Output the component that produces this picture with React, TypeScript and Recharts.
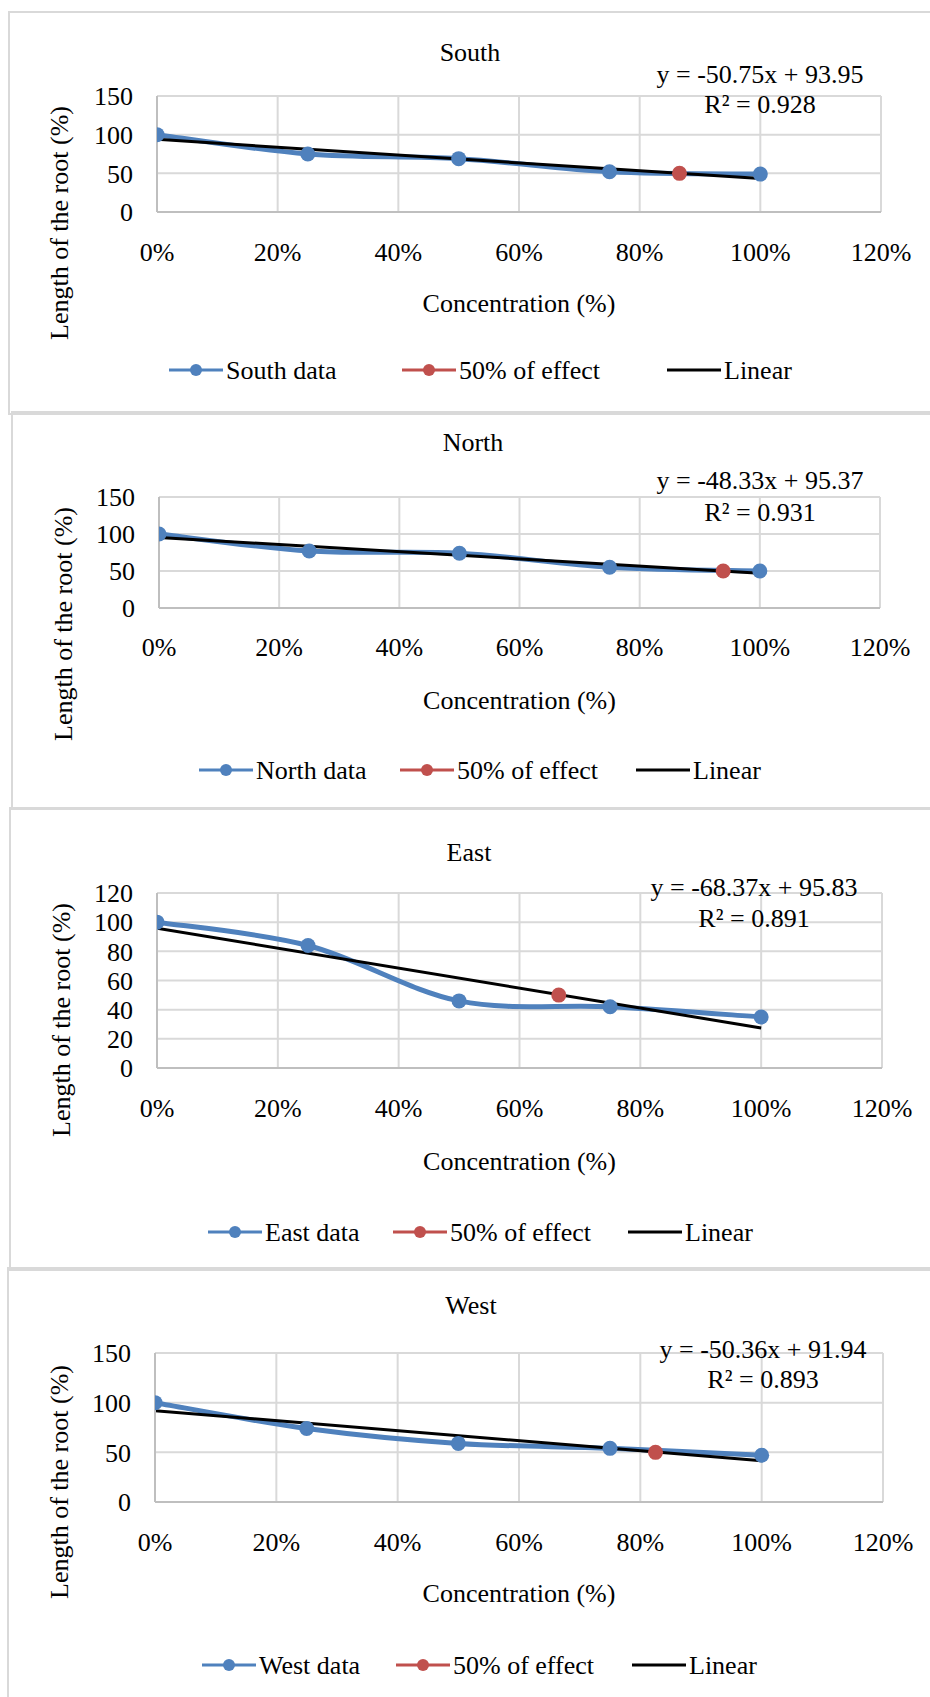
import React from "react";
import { ComposedChart, Line, XAxis, YAxis, CartesianGrid, Legend } from "recharts";

// concentrations tested (fraction of full strength)
const concentrations = [0, 0.25, 0.5, 0.75, 1];

// root length (%)
const southValues = [100, 75, 69, 52, 49];
const northValues = [100, 77, 74, 55, 50];
const eastValues = [100, 84, 46, 42, 35];
const westValues = [100, 74, 59, 54, 47];

// the "50% of effect" point
const southEffect = [{ x: 0.866, y: 50 }];
const northEffect = [{ x: 0.939, y: 50 }];
const eastEffect = [{ x: 0.665, y: 50 }];
const westEffect = [{ x: 0.825, y: 50 }];

// trendline end points
const southTrend = [{ x: 0, y: 93.95 }, { x: 1, y: 43.2 }];
const northTrend = [{ x: 0, y: 95.37 }, { x: 1, y: 47.04 }];
const eastTrend = [{ x: 0, y: 95.83 }, { x: 1, y: 27.46 }];
const westTrend = [{ x: 0, y: 91.94 }, { x: 1, y: 41.58 }];

const southEquation = ["y = -50.75x + 93.95", "R² = 0.928"];
const northEquation = ["y = -48.33x + 95.37", "R² = 0.931"];
const eastEquation = ["y = -68.37x + 95.83", "R² = 0.891"];
const westEquation = ["y = -50.36x + 91.94", "R² = 0.893"];

const xTicks = [0, 0.2, 0.4, 0.6, 0.8, 1, 1.2];
const yTicks150 = [0, 50, 100, 150];
const yTicks120 = [0, 20, 40, 60, 80, 100, 120];

const FONT = '"Liberation Serif", "Times New Roman", serif';
const FS = 26;
const BLUE = "#4f81bd";
const RED = "#c0504d";
const GRID = "#d9d9d9";

// Excel-like smoothed line (uniform Catmull-Rom)
function excelSmooth(context: any) {
  let pts: number[][] = [];
  return {
    areaStart() {},
    areaEnd() {},
    lineStart() {
      pts = [];
    },
    lineEnd() {
      const n = pts.length;
      if (!n) return;
      context.moveTo(pts[0][0], pts[0][1]);
      for (let i = 0; i < n - 1; i++) {
        const p0 = pts[Math.max(0, i - 1)];
        const p1 = pts[i];
        const p2 = pts[i + 1];
        const p3 = pts[Math.min(n - 1, i + 2)];
        context.bezierCurveTo(
          p1[0] + (p2[0] - p0[0]) / 6,
          p1[1] + (p2[1] - p0[1]) / 6,
          p2[0] - (p3[0] - p1[0]) / 6,
          p2[1] - (p3[1] - p1[1]) / 6,
          p2[0],
          p2[1]
        );
      }
    },
    point(x: number, y: number) {
      pts.push([+x, +y]);
    },
  };
}

const panels = [
  {
    name: "South", values: southValues, effect: southEffect, trend: southTrend, eq: southEquation,
    yMax: 150, yTicks: yTicks150,
    box: { left: 9, top: 12, bottom: 412 },
    plot: { left: 157, right: 881, top: 96, bottom: 212 },
    title: [470, 52], eqX: 760, eqY: [74, 104], yTitle: [59, 223], xTitleY: 303, xTickY: 253,
    legendY: 370, legendX: [169, 402, 667],
  },
  {
    name: "North", values: northValues, effect: northEffect, trend: northTrend, eq: northEquation,
    yMax: 150, yTicks: yTicks150,
    box: { left: 12, top: 412, bottom: 807 },
    plot: { left: 159, right: 880, top: 497, bottom: 608 },
    title: [473, 442], eqX: 760, eqY: [480, 512], yTitle: [63, 624], xTitleY: 700, xTickY: 648,
    legendY: 770, legendX: [199, 400, 636],
  },
  {
    name: "East", values: eastValues, effect: eastEffect, trend: eastTrend, eq: eastEquation,
    yMax: 120, yTicks: yTicks120,
    box: { left: 10, top: 808, bottom: 1268 },
    plot: { left: 157, right: 882, top: 893, bottom: 1068 },
    title: [469, 852], eqX: 754, eqY: [887, 918], yTitle: [61, 1020], xTitleY: 1161, xTickY: 1109,
    legendY: 1232, legendX: [208, 393, 628],
  },
  {
    name: "West", values: westValues, effect: westEffect, trend: westTrend, eq: westEquation,
    yMax: 150, yTicks: yTicks150,
    box: { left: 8, top: 1268, bottom: 1700 },
    plot: { left: 155, right: 883, top: 1353, bottom: 1502 },
    title: [471, 1305], eqX: 763, eqY: [1349, 1379], yTitle: [59, 1482], xTitleY: 1593, xTickY: 1543,
    legendY: 1665, legendX: [202, 396, 632],
  },
];

// legend keeps the series order of the original (data, 50% point, linear)
function LegendRow({ payload, names, xs }: any) {
  const items = names.map((n: string) => (payload || []).find((e: any) => e.value === n) || { value: n, color: "#000" });
  return (
    <svg width={930} height={36} style={{ display: "block", overflow: "visible" }}>
      {items.map((entry: any, i: number) => (
        <g key={i}>
          <line x1={xs[i]} x2={xs[i] + 54} y1={18} y2={18} stroke={entry.color} strokeWidth={3} />
          {i < 2 && <circle cx={xs[i] + 27} cy={18} r={6} fill={entry.color} />}
          <text x={xs[i] + 57} y={27} fontFamily={FONT} fontSize={FS} fill="#000">
            {entry.value}
          </text>
        </g>
      ))}
    </svg>
  );
}

function Panel({ p }: any) {
  const { box, plot } = p;
  const w = 930 - box.left;
  const h = box.bottom - box.top;
  const data = concentrations.map((x, i) => ({ x, y: p.values[i] }));
  const xAxisH = 30;
  const tickStyle = { fontSize: FS, fontFamily: FONT, fill: "#000" };
  const toLocal = (x: number, y: number) => [x - box.left, y - box.top];
  const [tx, ty] = toLocal(p.title[0], p.title[1]);
  const [yx, yy] = toLocal(p.yTitle[0], p.yTitle[1]);
  const xTitleX = (plot.left + plot.right) / 2 - box.left;
  const names = [`${p.name} data`, "50% of effect", "Linear"];

  return (
    <>
      <div
        style={{
          position: "absolute",
          left: box.left - 1,
          top: box.top - 1,
          width: 940 - box.left,
          height: h,
          borderTop: `2px solid ${GRID}`,
          borderLeft: `2px solid ${GRID}`,
          borderBottom: `2px solid ${GRID}`,
        }}
      />
      <div style={{ position: "absolute", left: box.left, top: box.top, width: w, height: h }}>
        <ComposedChart
          width={w}
          height={h}
          margin={{
            top: plot.top - box.top,
            left: 0,
            right: 930 - plot.right,
            bottom: box.bottom - plot.bottom - xAxisH,
          }}
        >
          <CartesianGrid stroke={GRID} strokeWidth={2} />
          <XAxis
            type="number"
            dataKey="x"
            domain={[0, 1.2]}
            ticks={xTicks}
            interval={0}
            allowDataOverflow
            height={xAxisH}
            tickFormatter={(v: number) => `${Math.round(v * 100)}%`}
            tick={tickStyle}
            tickLine={false}
            tickSize={0}
            tickMargin={p.xTickY - plot.bottom - 10}
            axisLine={{ stroke: "#bfbfbf", strokeWidth: 2 }}
          />
          <YAxis
            type="number"
            domain={[0, p.yMax]}
            ticks={p.yTicks}
            interval={0}
            width={plot.left - box.left}
            tick={tickStyle}
            tickLine={false}
            tickSize={0}
            tickMargin={24}
            axisLine={{ stroke: "#bfbfbf", strokeWidth: 2 }}
          />
          <Line
            data={data}
            dataKey="y"
            name={names[0]}
            type={excelSmooth as any}
            stroke={BLUE}
            strokeWidth={5}
            dot={{ r: 7.5, fill: BLUE, stroke: BLUE, strokeWidth: 0 }}
            activeDot={false}
            isAnimationActive={false}
          />
          <Line
            data={p.effect}
            dataKey="y"
            name={names[1]}
            stroke={RED}
            strokeWidth={3}
            dot={{ r: 7.5, fill: RED, stroke: RED, strokeWidth: 0 }}
            activeDot={false}
            isAnimationActive={false}
          />
          <Line
            data={p.trend}
            dataKey="y"
            name={names[2]}
            type="linear"
            stroke="#000"
            strokeWidth={3}
            dot={false}
            activeDot={false}
            isAnimationActive={false}
          />
          <Legend
            verticalAlign="middle"
            align="center"
            layout="horizontal"
            wrapperStyle={{ top: p.legendY - box.top - 18, left: 0, width: w, height: 36 }}
            content={(props: any) => (
              <LegendRow
                payload={props.payload}
                names={names}
                xs={p.legendX.map((x: number) => x - box.left)}
              />
            )}
          />
        </ComposedChart>
        <svg
          width={w}
          height={h}
          style={{ position: "absolute", left: 0, top: 0, pointerEvents: "none" }}
        >
          <text x={tx} y={ty + 9} textAnchor="middle" fontFamily={FONT} fontSize={FS}>
            {p.name}
          </text>
          <text x={p.eqX - box.left} y={p.eqY[0] - box.top + 9} textAnchor="middle" fontFamily={FONT} fontSize={FS}>
            {p.eq[0]}
          </text>
          <text x={p.eqX - box.left} y={p.eqY[1] - box.top + 9} textAnchor="middle" fontFamily={FONT} fontSize={FS}>
            {p.eq[1]}
          </text>
          <text x={xTitleX} y={p.xTitleY - box.top + 9} textAnchor="middle" fontFamily={FONT} fontSize={FS}>
            Concentration (%)
          </text>
          <text
            transform={`translate(${yx}, ${yy}) rotate(-90)`}
            y={9}
            textAnchor="middle"
            fontFamily={FONT}
            fontSize={FS}
          >
            Length of the root (%)
          </text>
        </svg>
      </div>
    </>
  );
}

export default function App() {
  return (
    <div
      style={{
        position: "absolute",
        left: 0,
        top: 0,
        width: 930,
        height: 1697,
        overflow: "hidden",
        background: "#fff",
      }}
    >
      {panels.map((p) => (
        <Panel key={p.name} p={p} />
      ))}
    </div>
  );
}
